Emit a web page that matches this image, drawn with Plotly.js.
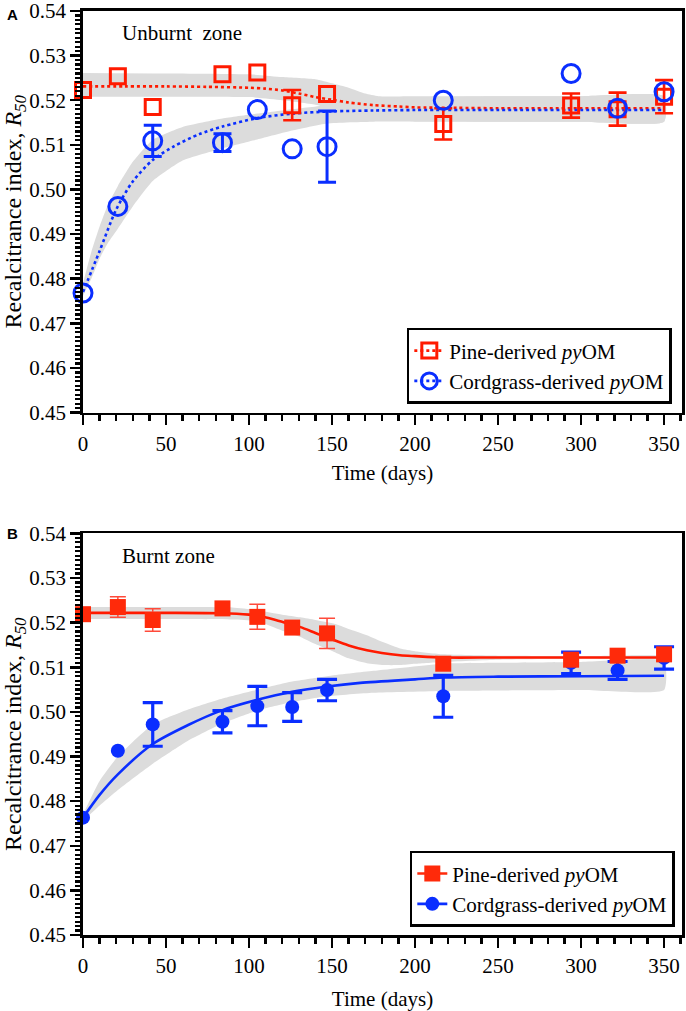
<!DOCTYPE html>
<html>
<head>
<meta charset="utf-8">
<script src="https://cdn.plot.ly/plotly-3.0.1.min.js"></script>
<style>html,body{margin:0;padding:0;background:#fff;}#chart{width:686px;height:1011px;}</style>
</head>
<body>
<div id="chart"></div>
<script>
// ---- sampling days ----
const days = [0, 21, 42, 84, 105, 126, 147, 217, 294, 322, 350];

// ---- Panel A: Unburnt zone ----
const pineA      = [0.5223, 0.5254, 0.5185, 0.5258, 0.5262, 0.5189, 0.5214, 0.5147, 0.5188, 0.5180, 0.5208];
const pineAErr   = [NaN, NaN, NaN, NaN, NaN, 0.0034, NaN, 0.0035, 0.0027, 0.0037, 0.0037];
const cordA      = [0.4768, 0.4962, 0.5109, 0.5105, 0.5179, 0.5091, 0.5096, 0.5200, 0.5260, 0.5182, 0.5219];
const cordAErr   = [NaN, NaN, 0.0035, 0.0020, NaN, NaN, 0.0080, NaN, NaN, NaN, NaN];

// fitted curves
const pineAFitX  = [0, 25, 50, 75, 100, 110, 120, 130, 140, 150, 160, 175, 190, 200, 225, 250, 300, 350];
const pineAFitY  = [0.5231, 0.5231, 0.5231, 0.5230, 0.5228, 0.5226, 0.5222, 0.5215, 0.5207, 0.5201, 0.5195, 0.5189, 0.5186, 0.5184, 0.5183, 0.5182, 0.5182, 0.5182];
const cordAFitX  = [0, 10, 20, 30, 42, 55, 70, 84, 105, 126, 150, 175, 200, 250, 300, 350];
const cordAFitY  = [0.4770, 0.4862, 0.4955, 0.5018, 0.5066, 0.5097, 0.5124, 0.5141, 0.5160, 0.5170, 0.5175, 0.5177, 0.5178, 0.5178, 0.5178, 0.5178];

// confidence bands
const pineABandX  = [0, 50, 100, 120, 140, 150, 160, 170, 178, 200, 250, 300, 350];
const pineABandHi = [0.5261, 0.5260, 0.5258, 0.5252, 0.5247, 0.5238, 0.5228, 0.5215, 0.5209, 0.5209, 0.5209, 0.5209, 0.5209];
const pineABandLo = [0.5208, 0.5208, 0.5207, 0.5200, 0.5190, 0.5180, 0.5170, 0.5162, 0.5157, 0.5153, 0.5152, 0.5152, 0.5152];
const cordABandX  = [0, 5, 10, 15, 21, 30, 42, 60, 84, 105, 126, 147, 175, 200, 250, 300, 350];
const cordABandHi = [0.4790, 0.4860, 0.4917, 0.4965, 0.5008, 0.5062, 0.5111, 0.5140, 0.5159, 0.5170, 0.5180, 0.5189, 0.5200, 0.5206, 0.5209, 0.5209, 0.5209];
const cordABandLo = [0.4762, 0.4800, 0.4845, 0.4880, 0.4912, 0.4962, 0.5019, 0.5065, 0.5092, 0.5112, 0.5132, 0.5148, 0.5152, 0.5152, 0.5152, 0.5152, 0.5152];

// ---- Panel B: Burnt zone ----
const pineB      = [0.5219, 0.5235, 0.5206, 0.5232, 0.5213, 0.5189, 0.5176, 0.5108, 0.5117, 0.5126, 0.5129];
const pineBErr   = [NaN, 0.0023, 0.0025, NaN, 0.0028, NaN, 0.0034, NaN, NaN, NaN, NaN];
const cordB      = [0.4763, 0.4913, 0.4972, 0.4978, 0.5013, 0.5011, 0.5049, 0.5035, 0.5110, 0.5093, 0.5121];
const cordBErr   = [NaN, NaN, 0.0049, 0.0025, 0.0044, 0.0032, 0.0024, 0.0047, 0.0024, 0.0020, 0.0025];

const pineBFitX  = [0, 50, 84, 100, 105, 115, 126, 131, 140, 151, 160, 171, 180, 191, 200, 217, 250, 300, 350];
const pineBFitY  = [0.5222, 0.5222, 0.5221, 0.5218, 0.5216, 0.5207, 0.5195, 0.5190, 0.5177, 0.5161, 0.5149, 0.5138, 0.5132, 0.5127, 0.5125, 0.5122, 0.5122, 0.5122, 0.5122];
const cordBFitX  = [0, 10, 21, 42, 63, 84, 105, 126, 147, 167, 200, 217, 250, 300, 350];
const cordBFitY  = [0.4763, 0.4814, 0.4860, 0.4928, 0.4970, 0.5004, 0.5027, 0.5045, 0.5057, 0.5065, 0.5073, 0.5077, 0.5079, 0.5080, 0.5081];

const pineBBandX  = [0, 50, 90, 105, 120, 131, 140, 151, 160, 171, 181, 191, 200, 217, 250, 300, 350];
const pineBBandHi = [0.5235, 0.5235, 0.5234, 0.5228, 0.5218, 0.5212, 0.5206, 0.5198, 0.5186, 0.5172, 0.5156, 0.5142, 0.5136, 0.5129, 0.5126, 0.5125, 0.5125];
const pineBBandLo = [0.5208, 0.5208, 0.5207, 0.5203, 0.5182, 0.5168, 0.5152, 0.5135, 0.5120, 0.5109, 0.5105, 0.5105, 0.5108, 0.5112, 0.5117, 0.5119, 0.5119];
const cordBBandX  = [0, 10, 21, 42, 63, 84, 105, 126, 147, 175, 217, 250, 300, 350];
const cordBBandHi = [0.4770, 0.4845, 0.4900, 0.4972, 0.5005, 0.5030, 0.5050, 0.5068, 0.5080, 0.5092, 0.5108, 0.5110, 0.5112, 0.5113];
const cordBBandLo = [0.4755, 0.4790, 0.4825, 0.4884, 0.4935, 0.4974, 0.5003, 0.5022, 0.5035, 0.5043, 0.5047, 0.5048, 0.5049, 0.5049];

// ---- labels ----
const pineName = 'Pine-derived <i>py</i>OM';
const cordName = 'Cordgrass-derived <i>py</i>OM';
const yTitle = 'Recalcitrance index, <i>R</i><sub><i>50</i></sub>';
const xTitle = 'Time (days)';

// ---- styles ----
const RED = '#ff1a00';
const RED_B = '#ff2a0a';
const BLUE = '#0a2eff';
const BAND = '#dcdcdc';
const SERIF = 'Liberation Serif, Times New Roman, serif';

function band(xs, hi, lo, xa, ya) {
  return {
    x: xs.concat(xs.slice().reverse()),
    y: hi.concat(lo.slice().reverse()),
    xaxis: xa, yaxis: ya,
    type: 'scatter', mode: 'lines', fill: 'toself',
    fillcolor: BAND, line: {width: 0, shape: 'spline', smoothing: 0.5},
    hoverinfo: 'skip', showlegend: false
  };
}
function fit(xs, ys, color, dash, xa, ya) {
  return {
    x: xs, y: ys, xaxis: xa, yaxis: ya, type: 'scatter', mode: 'lines',
    line: {color: color, width: 2.6, dash: dash, shape: 'spline', smoothing: 0.8},
    hoverinfo: 'skip', showlegend: false, cliponaxis: false
  };
}
function pts(ys, err, marker, ecolor, ethick, ewidth, xa, ya) {
  return {
    x: days, y: ys, xaxis: xa, yaxis: ya, type: 'scatter', mode: 'markers',
    marker: marker,
    error_y: {type: 'data', array: err, visible: true, color: ecolor, thickness: ethick, width: ewidth},
    showlegend: false, cliponaxis: false
  };
}
function legendItem(name, color, dash, marker, legend, rank) {
  return {
    x: [null], y: [null], type: 'scatter', mode: 'lines+markers', name: name,
    line: {color: color, width: 2.6, dash: dash}, marker: marker,
    legend: legend, legendrank: rank, showlegend: true,
    xaxis: legend === 'legend' ? 'x' : 'x2', yaxis: legend === 'legend' ? 'y' : 'y2'
  };
}

const mkOpenSq = {symbol: 'square-open', size: 15, color: RED, line: {color: RED, width: 3}};
const mkOpenCi = {symbol: 'circle-open', size: 18, color: BLUE, line: {color: BLUE, width: 3}};
const mkSq = {symbol: 'square', size: 16, color: RED_B, line: {width: 0}};
const mkCi = {symbol: 'circle', size: 14, color: BLUE, line: {width: 0}};

const data = [
  band(pineABandX, pineABandHi, pineABandLo, 'x', 'y'),
  band(cordABandX, cordABandHi, cordABandLo, 'x', 'y'),
  fit(pineAFitX, pineAFitY, RED, 'dot', 'x', 'y'),
  fit(cordAFitX, cordAFitY, BLUE, 'dot', 'x', 'y'),
  pts(pineA, pineAErr, mkOpenSq, RED, 2.6, 9, 'x', 'y'),
  pts(cordA, cordAErr, mkOpenCi, BLUE, 3, 9, 'x', 'y'),

  band(pineBBandX, pineBBandHi, pineBBandLo, 'x2', 'y2'),
  band(cordBBandX, cordBBandHi, cordBBandLo, 'x2', 'y2'),
  fit(pineBFitX, pineBFitY, RED, 'solid', 'x2', 'y2'),
  fit(cordBFitX, cordBFitY, BLUE, 'solid', 'x2', 'y2'),
  pts(cordB, cordBErr, mkCi, BLUE, 3.2, 10, 'x2', 'y2'),
  pts(pineB, pineBErr, mkSq, '#ff4a3a', 1.5, 8, 'x2', 'y2'),

  legendItem(pineName, RED, 'dot', mkOpenSq, 'legend', 1),
  legendItem(cordName, BLUE, 'dot', mkOpenCi, 'legend', 2),
  legendItem(pineName, RED_B, 'solid', mkSq, 'legend2', 1),
  legendItem(cordName, BLUE, 'solid', mkCi, 'legend2', 2)
];

function xAxis(anchor, standoff) {
  return {
    anchor: anchor, domain: [0, 1], range: [0, 360.8],
    tick0: 0, dtick: 50, ticks: 'outside', ticklen: 10, tickwidth: 2.5, tickcolor: '#000',
    minor: {dtick: 10, ticks: 'outside', ticklen: 6, tickwidth: 2.5, tickcolor: '#000', showgrid: false},
    showline: true, linewidth: 2.8, linecolor: '#000', mirror: true,
    showgrid: false, zeroline: false, ticklabeloverflow: 'allow',
    tickfont: {family: SERIF, size: 21, color: '#000'},
    title: {text: xTitle, font: {family: SERIF, size: 21, color: '#000'}, standoff: standoff}
  };
}
function yAxis(anchor, domain) {
  return {
    anchor: anchor, domain: domain, range: [0.45, 0.54],
    tickvals: [0.45, 0.46, 0.47, 0.48, 0.49, 0.50, 0.51, 0.52, 0.53, 0.54], tickformat: '.2f',
    ticks: 'outside', ticklen: 10, tickwidth: 2.5, tickcolor: '#000',
    minor: {dtick: 0.001, tick0: 0.45, ticks: 'outside', ticklen: 5, tickwidth: 2.2, tickcolor: '#000', showgrid: false},
    showline: true, linewidth: 2.8, linecolor: '#000', mirror: true,
    showgrid: false, zeroline: false, ticklabeloverflow: 'allow',
    tickfont: {family: SERIF, size: 21, color: '#000'},
    title: {text: yTitle, font: {family: SERIF, size: 24, color: '#000'}, standoff: 6}
  };
}

const legendStyle = {
  font: {family: SERIF, size: 21, color: '#000'},
  bgcolor: '#fff', bordercolor: '#000', borderwidth: 2.5,
  xanchor: 'right', yanchor: 'top', itemwidth: 30, tracegroupgap: 0,
  traceorder: 'normal'
};

const layout = {
  width: 686, height: 1011,
  margin: {l: 83, r: 4, t: 11, b: 76},
  paper_bgcolor: '#fff', plot_bgcolor: '#fff',
  showlegend: true,
  xaxis: xAxis('y', 11),
  yaxis: yAxis('x', [0.5654, 1]),
  xaxis2: xAxis('y2', 16),
  yaxis2: yAxis('x2', [0, 0.4346]),
  legend: Object.assign({}, legendStyle, {x: 0.983, y: 0.657}),
  legend2: Object.assign({}, legendStyle, {x: 0.988, y: 0.091}),
  annotations: [
    {text: '<b>A</b>', xref: 'paper', yref: 'paper', x: -0.118, y: 0.996, xanchor: 'center', yanchor: 'middle',
     showarrow: false, font: {family: 'Liberation Sans, Arial, sans-serif', size: 15, color: '#000'}},
    {text: '<b>B</b>', xref: 'paper', yref: 'paper', x: -0.118, y: 0.4346, xanchor: 'center', yanchor: 'middle',
     showarrow: false, font: {family: 'Liberation Sans, Arial, sans-serif', size: 15, color: '#000'}},
    {text: 'Unburnt\u00a0\u00a0zone', xref: 'x domain', yref: 'y domain', x: 0.062, y: 0.944, xanchor: 'left', yanchor: 'middle',
     showarrow: false, font: {family: SERIF, size: 21, color: '#000'}},
    {text: 'Burnt zone', xref: 'x2 domain', yref: 'y2 domain', x: 0.062, y: 0.945, xanchor: 'left', yanchor: 'middle',
     showarrow: false, font: {family: SERIF, size: 21, color: '#000'}}
  ]
};

Plotly.newPlot('chart', data, layout, {staticPlot: true, displayModeBar: false});
</script>
</body>
</html>
